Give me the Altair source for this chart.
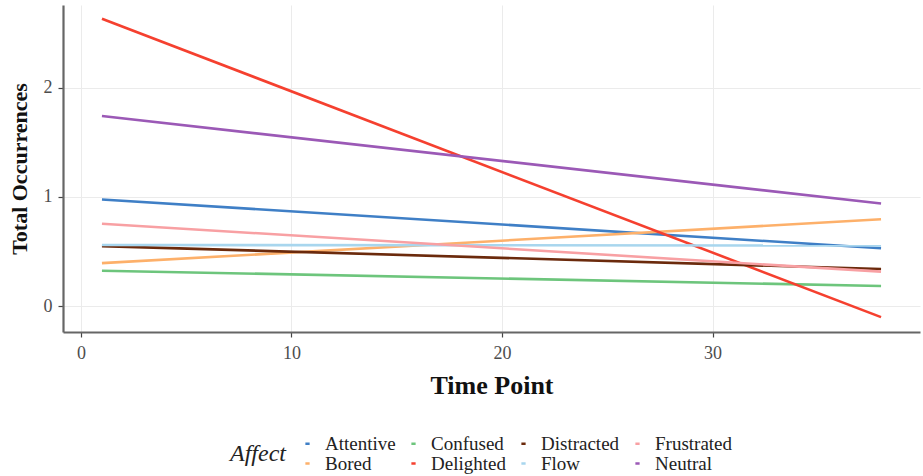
import altair as alt
import pandas as pd

# Series in ggplot's factor order (drawing order)
affects = ["Attentive", "Bored", "Confused", "Delighted",
           "Distracted", "Flow", "Frustrated", "Neutral"]
time_points = [1, 38]
start_values = [0.977, 0.394, 0.325, 2.63, 0.55, 0.56, 0.755, 1.74]
end_values = [0.53, 0.795, 0.185, -0.10, 0.34, 0.555, 0.316, 0.94]
colors = ["#3F7FC6", "#FDB06A", "#6DC57C", "#F5402F",
          "#6B2A0C", "#A8D6EE", "#F8A0A3", "#9B59B6"]

# Legend is filled column-wise in the reference (2 rows x 4 columns)
legend_order = ["Attentive", "Confused", "Distracted", "Frustrated",
                "Bored", "Delighted", "Flow", "Neutral"]
legend_colors = [colors[affects.index(a)] for a in legend_order]

rows = []
for a, s, e in zip(affects, start_values, end_values):
    rows.append({"Affect": a, "Time": time_points[0], "Value": s})
    rows.append({"Affect": a, "Time": time_points[1], "Value": e})
df = pd.DataFrame(rows)

serif = "Liberation Serif"

chart = alt.Chart(df).mark_line(strokeWidth=2.6).encode(
    x=alt.X("Time:Q",
            scale=alt.Scale(domain=[-0.85, 39.85], nice=False, zero=False),
            axis=alt.Axis(title="Time Point", values=[0, 10, 20, 30],
                          format="d")),
    y=alt.Y("Value:Q",
            scale=alt.Scale(domain=[-0.236, 2.756], nice=False, zero=False),
            axis=alt.Axis(title="Total Occurrences", values=[0, 1, 2],
                          format="d")),
    color=alt.Color("Affect:N",
                    scale=alt.Scale(domain=legend_order, range=legend_colors),
                    legend=alt.Legend(
                        orient="none", legendX=167, legendY=429,
                        direction="horizontal", columns=4,
                        title="Affect", titleOrient="left",
                        titleFont=serif, titleFontStyle="italic",
                        titleFontWeight="normal", titleFontSize=24,
                        titleColor="#222222", titleBaseline="middle",
                        titlePadding=12,
                        labelFont=serif, labelFontSize=19, labelColor="#222222",
                        symbolType="stroke", symbolSize=18,
                        symbolStrokeWidth=2.5, columnPadding=8,
                        rowPadding=0, labelOffset=8)),
    detail="Affect:N",
    order=alt.value(0),
).properties(
    width=857, height=327,
    autosize=alt.AutoSizeParams(type="none"),
    padding={"left": 63, "top": 5, "right": 3, "bottom": 144},
).configure_view(
    stroke=None
).configure_axis(
    gridColor="#EBEBEB", gridWidth=1,
    domainColor="#666666", domainWidth=2.2,
    tickColor="#444444", tickSize=5, tickWidth=1.2,
    labelFont=serif, labelFontSize=18, labelColor="#4D4D4D",
    titleFont=serif, titleFontWeight="bold", titleColor="#111111",
).configure_axisX(
    titleFontSize=26, titlePadding=10, labelPadding=7
).configure_axisY(
    titleFontSize=22, titlePadding=12, labelPadding=6
)

chart.save("out.html", embed_options={"renderer": "svg", "actions": False})
